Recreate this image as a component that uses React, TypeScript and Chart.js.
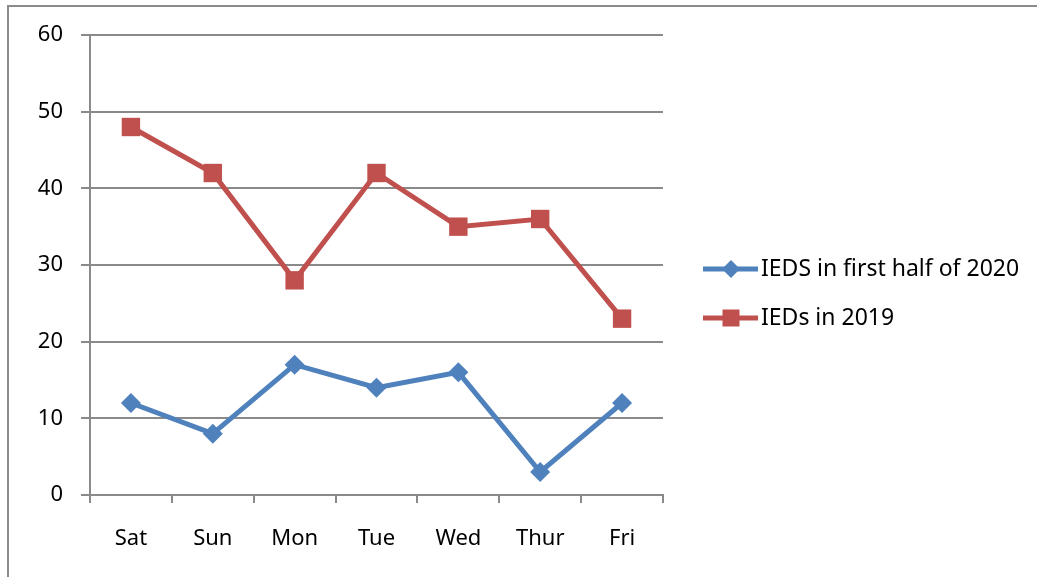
import React, { useEffect, useRef } from "react";
import { Chart, registerables } from "chart.js";

Chart.register(...registerables);

const categories = ["Sat", "Sun", "Mon", "Tue", "Wed", "Thur", "Fri"];
const seriesNames = ["IEDS in first half of 2020", "IEDs in 2019"];
const ieds2020 = [12, 8, 17, 14, 16, 3, 12];
const ieds2019 = [48, 42, 28, 42, 35, 36, 23];

const BLUE = "#4F81BD";
const RED = "#C0504D";
const GRID = "#8a8a8a";
const FONT = "'Noto Sans', sans-serif";

const framePlugin = {
  id: "frame",
  beforeDraw(chart: any) {
    const ctx = chart.ctx;
    ctx.save();
    ctx.fillStyle = "#ffffff";
    ctx.fillRect(0, 0, chart.width, chart.height);
    ctx.strokeStyle = "#8c8c8c";
    ctx.lineWidth = 2;
    ctx.beginPath();
    ctx.moveTo(8, chart.height);
    ctx.lineTo(8, 6);
    ctx.lineTo(chart.width, 6);
    ctx.stroke();
    ctx.restore();
  },
};

const legendPlugin = {
  id: "customLegend",
  afterDraw(chart: any) {
    const ctx = chart.ctx;
    const ys = [269, 318];
    ctx.save();
    chart.data.datasets.forEach((ds: any, i: number) => {
      const y = ys[i];
      ctx.strokeStyle = ds.borderColor;
      ctx.lineWidth = 5;
      ctx.beginPath();
      ctx.moveTo(703, y);
      ctx.lineTo(758, y);
      ctx.stroke();
      ctx.fillStyle = ds.borderColor;
      const cx = 731;
      if (ds.pointStyle === "rectRot") {
        const r = 9;
        ctx.beginPath();
        ctx.moveTo(cx, y - r);
        ctx.lineTo(cx + r, y);
        ctx.lineTo(cx, y + r);
        ctx.lineTo(cx - r, y);
        ctx.closePath();
        ctx.fill();
      } else {
        const s = 8.5;
        ctx.fillRect(cx - s, y - s, 2 * s, 2 * s);
      }
      ctx.fillStyle = "#000000";
      ctx.font = `23px ${FONT}`;
      ctx.textAlign = "left";
      ctx.textBaseline = "middle";
      ctx.fillText(ds.label, 761, y);
    });
    ctx.restore();
  },
};

export default function App() {
  const ref = useRef<HTMLCanvasElement | null>(null);
  useEffect(() => {
    if (!ref.current) return;
    const chart = new Chart(ref.current, {
      type: "line",
      data: {
        labels: categories,
        datasets: [
          {
            label: seriesNames[0],
            data: ieds2020,
            borderColor: BLUE,
            backgroundColor: BLUE,
            borderWidth: 5,
            pointStyle: "rectRot",
            pointRadius: 10,
            pointBorderWidth: 0,
            tension: 0,
          },
          {
            label: seriesNames[1],
            data: ieds2019,
            borderColor: RED,
            backgroundColor: RED,
            borderWidth: 5,
            pointStyle: "rect",
            pointRadius: 13,
            pointBorderWidth: 0,
            tension: 0,
          },
        ],
      },
      options: {
        animation: false,
        responsive: false,
        maintainAspectRatio: false,
        layout: { padding: { left: 0, top: 35, right: 374, bottom: 0 } },
        plugins: {
          legend: { display: false },
          tooltip: { enabled: false },
        },
        scales: {
          x: {
            offset: true,
            grid: {
              offset: true,
              drawOnChartArea: false,
              drawTicks: true,
              tickLength: 8,
              color: GRID,
              lineWidth: 2,
            },
            border: { color: GRID, width: 2 },
            ticks: {
              color: "#000000",
              font: { family: FONT, size: 22 },
              padding: 23,
              maxRotation: 0,
            },
            afterFit(scale: any) {
              scale.height = 82;
            },
          },
          y: {
            min: 0,
            max: 60,
            ticks: {
              stepSize: 10,
              color: "#000000",
              font: { family: FONT, size: 22 },
              padding: 18,
            },
            grid: {
              color: GRID,
              lineWidth: 2,
              tickLength: 9,
            },
            border: { color: GRID, width: 2 },
            afterFit(scale: any) {
              scale.width = 90;
            },
          },
        },
      },
      plugins: [framePlugin, legendPlugin],
    });
    return () => chart.destroy();
  }, []);
  return (
    <div style={{ position: "absolute", left: 0, top: 0, width: 1037, height: 577 }}>
      <canvas ref={ref} width={1037} height={577} style={{ display: "block" }} />
    </div>
  );
}
